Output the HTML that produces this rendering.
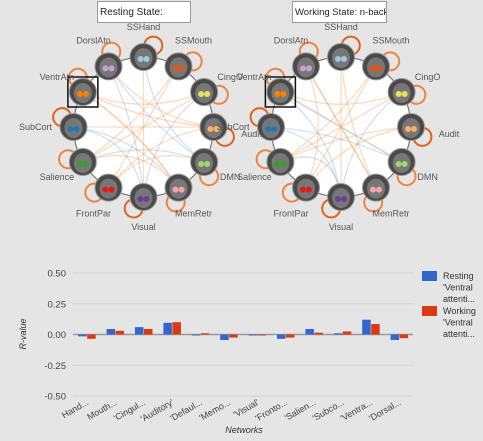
<!DOCTYPE html>
<html><head><meta charset="utf-8"><style>
body{margin:0;width:483px;height:441px;background:#e5e5e5;font-family:"Liberation Sans",sans-serif;overflow:hidden;position:relative}
.box{position:absolute;background:#fff;border:1px solid #999;font-size:10px;color:#222;height:22px;line-height:22px;padding-left:2px;box-sizing:border-box;white-space:nowrap;overflow:hidden;z-index:2}
svg{position:absolute;left:0;top:0;z-index:1}
</style></head><body>
<div class="box" style="left:97px;top:1px;width:94px">Resting State:</div>
<div class="box" style="left:292px;top:1px;width:95px;font-size:9.5px">Working State: n-back</div>
<svg id="s" width="483" height="441"></svg>
<script>
const networks=["SSHand","SSMouth","CingO","Audit","DMN","MemRetr","Visual","FrontPar","Salience","SubCort","VentrAtn","DorslAtn"];
const nodeColors=["#9ecae1","#e6550d","#e7e060","#fdae6b","#a1d76a","#f4a6a6","#6a3d9a","#e31a1c","#33a02c","#1f78b4","#ff7f00","#c2a5cf"];
const edgesRest=[[10,2,"o"],[10,3,"o"],[8,2,"o"],[8,5,"o"],[7,1,"o"],[7,4,"o"],[6,11,"b"],[6,2,"b"],[6,9,"b"],[5,10,"o"],[4,11,"b"],[4,8,"b"],[3,7,"o"],[0,6,"o"],[1,8,"o"],[9,5,"b"],[11,3,"o"],[0,4,"b"],[10,5,"o"],[9,3,"o"]];
const edgesWork=[[10,2,"o"],[10,4,"o"],[8,2,"o"],[8,1,"o"],[7,11,"o"],[7,3,"o"],[6,9,"b"],[6,2,"b"],[6,10,"b"],[5,11,"o"],[4,10,"b"],[3,8,"o"],[0,6,"o"],[1,7,"o"],[9,4,"b"],[6,8,"b"],[11,5,"o"],[0,5,"o"]];
const categories=["Hand...","Mouth...","'Cingul...","'Auditory'","'Defaul...","'Memo...","'Visual'","'Fronto...","'Salien...","'Subco...","'Ventra...","'Dorsal..."];
const resting=[-0.015,0.045,0.06,0.095,-0.005,-0.045,-0.005,-0.035,0.045,0.01,0.12,-0.045];
const working=[-0.035,0.03,0.045,0.10,0.01,-0.025,-0.003,-0.025,0.015,0.025,0.085,-0.03];
const ticks=[0.5,0.25,0,-0.25,-0.5];
const tickLabels=["0.50","0.25","0.00","-0.25","-0.50"];
const NS="http://www.w3.org/2000/svg";const svg=document.getElementById('s');
function mk(t,a,p){const e=document.createElementNS(NS,t);for(const k in a)e.setAttribute(k,a[k]);(p||svg).appendChild(e);return e;}
function ring(cx,cy,edges,nm){
 const g=mk('g',{});
 
 
 const R=70;
 const pos=networks.map((n,i)=>{const a=-Math.PI/2+i*Math.PI/6;return [cx+R*Math.cos(a),cy+R*Math.sin(a),a];});
 pos.forEach((p,i)=>{
  const lx=cx+(R+12)*Math.cos(p[2]+0.12),ly=cy+(R+12)*Math.sin(p[2]+0.12);
  const lp=mk('circle',{cx:lx,cy:ly,r:9,fill:'none',stroke:i%3==0?'#e0621c':'#f0843c','stroke-width':2},g);
  
  
 });
 let pts=[];for(let k=0;k<72;k++){const a=k*Math.PI/36;pts.push((cx+R*Math.cos(a)).toFixed(1)+','+(cy+R*Math.sin(a)).toFixed(1));}
 const c=mk('polygon',{points:pts.join(' '),fill:'#ffffff',stroke:'#777','stroke-width':1.2},g);
 
 
 edges.forEach(e=>{const p=pos[e[0]],q=pos[e[1]];
  const mx=(p[0]+q[0])/2,my=(p[1]+q[1])/2;const kx=cx+(mx-cx)*0.3,ky=cy+(my-cy)*0.3;
  const l=mk('path',{d:`M${p[0]},${p[1]} Q${kx},${ky} ${q[0]},${q[1]}`,fill:'none',stroke:e[2]=='o'?'#f9a55f':'#8fb6d8','stroke-width':1.3,'stroke-opacity':0.4},g);
  
  });
 pos.forEach((p,i)=>{
  const n=mk('circle',{cx:p[0],cy:p[1],r:13.5,fill:'#4a4a4a',stroke:'#999','stroke-width':1},g);
  
  
  mk('ellipse',{cx:p[0],cy:p[1]+1,rx:9,ry:10,fill:'#777'},g);
  mk('circle',{cx:p[0]-3,cy:p[1]+2,r:3,fill:nodeColors[i]},g);
  mk('circle',{cx:p[0]+3,cy:p[1]+2,r:3,fill:nodeColors[i]},g);
  if(i==10){const r=mk('rect',{x:p[0]-15,y:p[1]-15,width:30,height:30,fill:'none',stroke:'#111','stroke-width':1.5},g);}
  const d=(i==9||i==3)?108:100;
  const t=mk('text',{x:cx+d*Math.cos(p[2]),y:cy+d*Math.sin(p[2])+(i==3?10:3),'font-size':9,fill:'#555','text-anchor':'middle'},g);
  t.textContent=networks[i];
  
  
 });
}
ring(143.5,127,edgesRest,'resting-network-ring');
ring(341,127,edgesWork,'working-network-ring');
const x0=73,bw=28.4,gx1=413;
const y=v=>334.5-v*123;
ticks.forEach((t,i)=>{const l=mk('line',{x1:x0,x2:gx1,y1:y(t),y2:y(t),stroke:t==0?'#999':'#d4d4d4','stroke-width':t==0?1.5:1});
 
 
 const tx=mk('text',{x:66,y:y(t)+3.5,'font-size':9.5,fill:'#444','text-anchor':'end'});tx.textContent=tickLabels[i];
 
 });
categories.forEach((c,i)=>{const cx=x0+bw*(i+0.5);
 [[resting[i],'#3366cc',-9],[working[i],'#dc3912',0]].forEach(b=>{const top=Math.min(y(b[0]),y(0)),h=Math.max(Math.abs(y(b[0])-y(0)),1);
  const r=mk('rect',{x:cx+b[2],y:top,width:8.5,height:h,fill:b[1]});
  
  });
 const t=mk('text',{x:cx+2,y:404,'font-size':9,fill:'#444','text-anchor':'end',transform:`rotate(-30 ${cx+2} 404)`});t.textContent=c;
 
 });
const xt=mk('text',{x:244,y:433,'font-size':9,fill:'#333','font-style':'italic','text-anchor':'middle'});xt.textContent='Networks';


const yt=mk('text',{x:26,y:334,'font-size':9,fill:'#333','font-style':'italic','text-anchor':'middle',transform:'rotate(-90 26 334)'});yt.textContent='R-value';


[['#3366cc',271,["Resting","'Ventral","attenti..."],'legend-resting'],['#dc3912',306,["Working","'Ventral","attenti..."],'legend-working']].forEach(L=>{
 const r=mk('rect',{x:422,y:L[1],width:15,height:10,fill:L[0]});
 
 
 L[2].forEach((s,j)=>{const t=mk('text',{x:443,y:L[1]+8+j*11.5,'font-size':9,fill:'#333'});t.textContent=s;
  
  });});
</script></body></html>
